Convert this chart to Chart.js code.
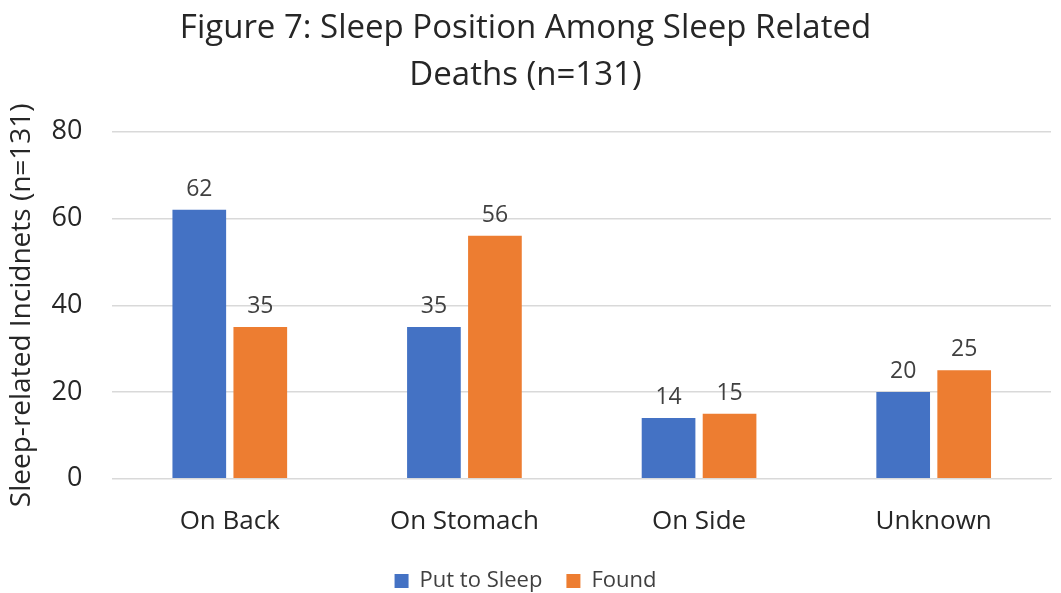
<!DOCTYPE html>
<html>
<head>
<meta charset="utf-8">
<script src="https://cdn.jsdelivr.net/npm/chart.js@4/dist/chart.umd.min.js"></script>
<style>
  html, body { margin: 0; padding: 0; background: #fff; }
  #wrap { width: 1061px; height: 593px; }
</style>
</head>
<body>
<div id="wrap"><canvas id="chart" width="1061" height="593"></canvas></div>
<script>
const positions = ["On Back", "On Stomach", "On Side", "Unknown"];
const putToSleep = [62, 35, 14, 20];
const found = [35, 56, 15, 25];

const FONT = "'Open Sans', 'Noto Sans', sans-serif";

// value labels above each bar
const barLabels = {
  id: 'barLabels',
  afterDatasetsDraw(chart) {
    const ctx = chart.ctx;
    ctx.save();
    ctx.font = "23px " + FONT;
    ctx.fillStyle = '#404040';
    ctx.textAlign = 'center';
    ctx.textBaseline = 'bottom';
    chart.data.datasets.forEach((ds, i) => {
      chart.getDatasetMeta(i).data.forEach((bar, j) => {
        ctx.fillText(ds.data[j], bar.x, bar.y - 9);
      });
    });
    ctx.restore();
  }
};

const config = {
  type: 'bar',
  data: {
    labels: positions,
    datasets: [
      { label: 'Put to Sleep', data: putToSleep, backgroundColor: '#4472C4' },
      { label: 'Found', data: found, backgroundColor: '#ED7D31' }
    ]
  },
  options: {
    responsive: false,
    animation: false,
    datasets: { bar: { categoryPercentage: 0.52, barPercentage: 0.88 } },
    layout: { padding: { left: 0, right: 10, top: 5, bottom: -9 } },
    plugins: {
      title: {
        display: true,
        text: ['Figure 7: Sleep Position Among Sleep Related', 'Deaths (n=131)'],
        color: '#262626',
        font: { family: FONT, size: 33, weight: 'normal', lineHeight: 1.42 },
        padding: { top: 0, bottom: 33 }
      },
      legend: {
        position: 'bottom',
        labels: {
          color: '#404040',
          font: { family: FONT, size: 22 },
          boxWidth: 14, boxHeight: 14, padding: 24
        }
      },
      tooltip: { enabled: false }
    },
    scales: {
      x: {
        grid: { display: false },
        border: { color: '#d9d9d9' },
        ticks: { color: '#262626', font: { family: FONT, size: 26 }, padding: 19 },
        afterFit(scale) { scale.height -= 10; }
      },
      y: {
        min: 0, max: 80,
        ticks: { stepSize: 20, color: '#262626', font: { family: FONT, size: 27 }, padding: 30 },
        grid: { color: '#d9d9d9', lineWidth: 1.5, drawTicks: false },
        border: { display: false },
        title: {
          display: true,
          text: 'Sleep-related Incidnets (n=131)',
          color: '#262626',
          font: { family: FONT, size: 28 },
          padding: { top: 5, bottom: -17 }
        }
      }
    }
  },
  plugins: [barLabels]
};

new Chart(document.getElementById('chart'), config);
</script>
</body>
</html>
